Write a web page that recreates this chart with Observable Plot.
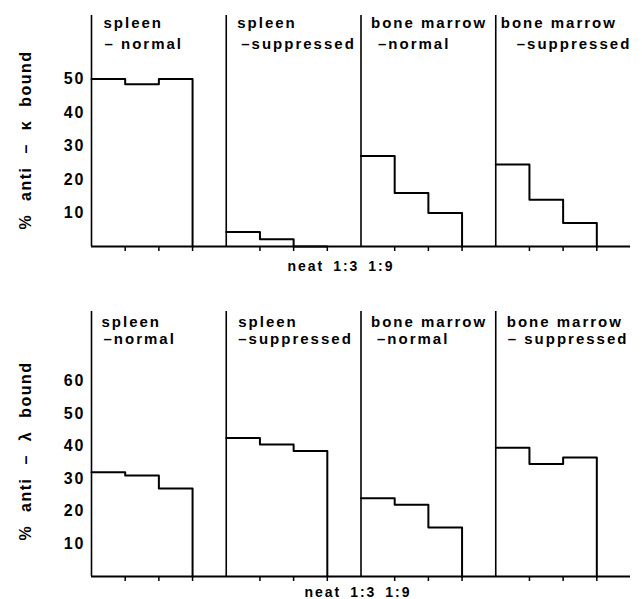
<!DOCTYPE html>
<html>
<head>
<meta charset="utf-8">
<script src="https://cdn.jsdelivr.net/npm/d3@7"></script>
<script src="https://cdn.jsdelivr.net/npm/@observablehq/plot@0.6"></script>
<style>
  html, body { margin: 0; padding: 0; background: #fff; }
  #chart svg { display: block; }
</style>
</head>
<body>
<div id="chart"></div>
<script>
// ---- data ----
const dilutions = ["neat", "1:3", "1:9"];
const groupLine1 = ["spleen", "spleen", "bone marrow", "bone marrow"];
const kappaLine2 = ["– normal", "–suppressed", "–normal", "–suppressed"];
const lambdaLine2 = ["–normal", "–suppressed", "–normal", "– suppressed"];

// % anti-kappa bound (neat, 1:3, 1:9)
const kappaSpleenNormal = [50, 48.5, 50];
const kappaSpleenSuppressed = [4.3, 2.2, 0];
const kappaMarrowNormal = [27, 16, 10];
const kappaMarrowSuppressed = [24.5, 14, 7];

// % anti-lambda bound (neat, 1:3, 1:9)
const lambdaSpleenNormal = [32, 31, 27];
const lambdaSpleenSuppressed = [42.5, 40.5, 38.5];
const lambdaMarrowNormal = [24, 22, 15];
const lambdaMarrowSuppressed = [39.5, 34.5, 36.5];

const kappaTicks = [10, 20, 30, 40, 50];
const lambdaTicks = [10, 20, 30, 40, 50, 60];
const xAxisLabel = "neat 1:3 1:9";

// ---- build tables ----
const slots = dilutions.length + 1; // 3 bars + gap per group
function stepTable(series) {
  const rows = [];
  series.forEach((vals, g) => {
    vals.forEach((v, i) => rows.push({group: g, x: g * slots + i, y: v}));
    rows.push({group: g, x: g * slots + vals.length, y: vals[vals.length - 1]});
    rows.push({group: g, x: g * slots + vals.length, y: 0});
  });
  return rows;
}
const groupStarts = groupLine1.map((_, g) => g * slots);
const innerTicks = groupLine1.flatMap((_, g) => dilutions.map((_, i) => g * slots + i + 1));

function panel(o) {
  const steps = stepTable(o.series);
  const titleMarks = groupLine1.flatMap((t, g) => [
    Plot.text([{x: g * slots, t}], {x: "x", text: "t", frameAnchor: "top", lineAnchor: "top",
      textAnchor: "start", dx: o.dx1[g], dy: o.dy1, fontSize: 15}),
    Plot.text([{x: g * slots, t: o.line2[g]}], {x: "x", text: "t", frameAnchor: "top", lineAnchor: "top",
      textAnchor: "start", dx: o.dx2[g], dy: o.dy2, fontSize: 15})
  ]);
  return Plot.plot({
    width: 642,
    height: o.height,
    marginLeft: 91,
    marginRight: 12,
    marginTop: o.marginTop,
    marginBottom: o.marginBottom,
    x: {domain: [0, groupLine1.length * slots], axis: null},
    y: {domain: [0, o.yTop], axis: null},
    style: {
      fontFamily: "'Liberation Sans', Arial, Helvetica, sans-serif",
      fontWeight: "bold",
      fontSize: "15px",
      letterSpacing: "2px",
      color: "#000",
      background: "#fff",
      overflow: "visible"
    },
    marks: [
      Plot.ruleX(groupStarts, {x: d => d, y1: 0, y2: o.yTop, strokeWidth: 1.6}),
      Plot.ruleY([0], {strokeWidth: 2}),
      Plot.axisX({ticks: innerTicks, tickSize: 5, tickFormat: () => "", strokeWidth: 1.5, label: null}),
      Plot.axisY({ticks: o.ticks, tickSize: 0, tickPadding: 6, fontSize: 16, label: null}),
      Plot.line(steps, {x: "x", y: "y", z: "group", curve: "step-after", strokeWidth: 2, stroke: "#000"}),
      ...titleMarks,
      Plot.text([xAxisLabel], {frameAnchor: "bottom", lineAnchor: "top", dx: o.xlDx, dy: o.xlDy,
        fontSize: 14}),
      Plot.text([o.yTitle], {frameAnchor: "left", textAnchor: "middle", lineAnchor: "middle",
        rotate: -90, dx: -66, dy: o.ytDy, fontSize: 16})
    ]
  });
}

const kappaChart = panel({
  series: [kappaSpleenNormal, kappaSpleenSuppressed, kappaMarrowNormal, kappaMarrowSuppressed],
  line2: kappaLine2,
  ticks: kappaTicks,
  yTop: 69,
  height: 290,
  marginTop: 15,
  marginBottom: 44,
  dx1: [12, 11, 10, 5],
  dx2: [13, 15, 17, 21],
  dy1: 2,
  dy2: 23,
  xlDx: -20,
  xlDy: 15,
  ytDy: 9,
  yTitle: "% anti – κ bound"
});
const lambdaChart = panel({
  series: [lambdaSpleenNormal, lambdaSpleenSuppressed, lambdaMarrowNormal, lambdaMarrowSuppressed],
  line2: lambdaLine2,
  ticks: lambdaTicks,
  yTop: 81.3,
  height: 309,
  marginTop: 21,
  marginBottom: 23,
  dx1: [10, 12, 10, 11],
  dx2: [12, 12, 16, 12],
  dy1: 5,
  dy2: 22,
  xlDx: -3,
  xlDy: 11,
  ytDy: 7,
  yTitle: "% anti – λ bound"
});

// spacing tweaks for the axis titles
for (const svg of [kappaChart, lambdaChart]) {
  svg.querySelectorAll("text").forEach(t => {
    if (t.textContent.startsWith("% anti")) { t.style.wordSpacing = "7px"; t.style.letterSpacing = "1.5px"; }
    if (t.textContent === xAxisLabel) t.style.wordSpacing = "3px";
  });
}
document.getElementById("chart").append(kappaChart, lambdaChart);
</script>
</body>
</html>
